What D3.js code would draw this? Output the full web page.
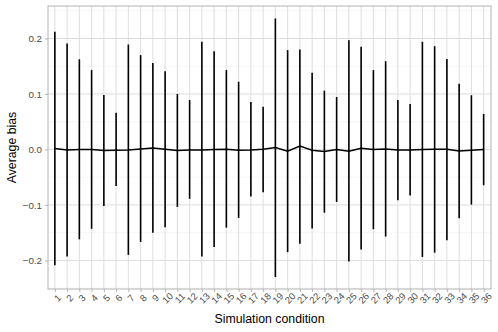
<!DOCTYPE html>
<html>
<head>
<meta charset="utf-8">
<script src="https://cdn.jsdelivr.net/npm/d3@7"></script>
<style>
  html, body { margin: 0; padding: 0; background: #fff; }
  svg { display: block; font-family: "Liberation Sans", Arial, Helvetica, sans-serif; }
</style>
</head>
<body>
<svg id="chart" width="498" height="332"></svg>
<script>
const conditions = d3.range(1, 37).map(String);
const meanBias = [0.0015, -0.0009, -0.0003, -0.0003, -0.0021, -0.0015, -0.0009, 0.0009, 0.0027, 0.0003,
  -0.0021, -0.0009, -0.0009, -0.0003, 0.0003, -0.0015, -0.0009, 0.0003, 0.0033, -0.0033,
  0.0063, -0.0015, -0.0039, -0.0003, -0.0033, 0.0021, -0.0003, 0.0009, -0.0009, -0.0009,
  -0.0003, 0.0003, 0.0003, -0.0027, -0.0015, -0.0003];
const upperBias = [0.212, 0.191, 0.1625, 0.143, 0.098, 0.066, 0.189, 0.170, 0.156, 0.141,
  0.100, 0.089, 0.194, 0.177, 0.143, 0.122, 0.0856, 0.077, 0.236, 0.179,
  0.180, 0.138, 0.106, 0.0946, 0.197, 0.185, 0.143, 0.159, 0.089, 0.082,
  0.194, 0.186, 0.163, 0.1186, 0.0977, 0.064];
const lowerBias = [-0.2087, -0.193, -0.162, -0.143, -0.102, -0.066, -0.190, -0.1667, -0.150, -0.140,
  -0.1036, -0.089, -0.193, -0.1757, -0.141, -0.1234, -0.085, -0.077, -0.230, -0.185,
  -0.170, -0.1426, -0.114, -0.0946, -0.202, -0.1805, -0.1438, -0.157, -0.0916, -0.083,
  -0.1937, -0.186, -0.1637, -0.124, -0.0994, -0.0645];
const yTicks = [-0.2, -0.1, 0.0, 0.1, 0.2];
const yMinorTicks = [-0.25, -0.15, -0.05, 0.05, 0.15, 0.25];

const data = conditions.map((c, i) => ({ c, mean: meanBias[i], lo: lowerBias[i], hi: upperBias[i] }));

const svg = d3.select("#chart");
const pLeft = 48, pRight = 491, pTop = 6, pBottom = 289;

const x = d3.scalePoint().domain(conditions).range([pLeft - 0.5, pRight]).padding(0.6);
const y = d3.scaleLinear().domain([-0.2515, 0.2585]).range([pBottom, pTop]);

const grid = svg.append("g");
grid.selectAll("line.minor").data(yMinorTicks).enter().append("line")
  .attr("x1", pLeft).attr("x2", pRight)
  .attr("y1", d => y(d)).attr("y2", d => y(d))
  .attr("stroke", "#ededed").attr("stroke-width", 0.5);
grid.selectAll("line.majy").data(yTicks).enter().append("line")
  .attr("x1", pLeft).attr("x2", pRight)
  .attr("y1", d => y(d)).attr("y2", d => y(d))
  .attr("stroke", "#dedede").attr("stroke-width", 1);
grid.selectAll("line.majx").data(conditions).enter().append("line")
  .attr("x1", d => x(d)).attr("x2", d => x(d))
  .attr("y1", pTop).attr("y2", pBottom)
  .attr("stroke", "#dedede").attr("stroke-width", 1);

// error bars
svg.append("g").selectAll("line").data(data).enter().append("line")
  .attr("x1", d => x(d.c)).attr("x2", d => x(d.c))
  .attr("y1", d => y(d.lo)).attr("y2", d => y(d.hi))
  .attr("stroke", "#000").attr("stroke-width", 1.6);

// mean line
svg.append("path").datum(data)
  .attr("d", d3.line().x(d => x(d.c)).y(d => y(d.mean)))
  .attr("fill", "none").attr("stroke", "#000").attr("stroke-width", 1.5);

// panel border
svg.append("rect").attr("x", pLeft).attr("y", pTop)
  .attr("width", pRight - pLeft).attr("height", pBottom - pTop)
  .attr("fill", "none").attr("stroke", "#b3b3b3").attr("stroke-width", 1);

// y axis
const yAxis = svg.append("g").attr("transform", `translate(${pLeft},0)`)
  .call(d3.axisLeft(y).tickValues(yTicks).tickSize(3).tickPadding(3)
    .tickFormat(d => d3.format(".1f")(d).replace("-", "\u2212")));
yAxis.select(".domain").remove();
yAxis.selectAll(".tick line").attr("stroke", "#b3b3b3");
yAxis.selectAll(".tick text").attr("fill", "#4d4d4d").style("font-size", "9.8px")
  .style("font-family", "Liberation Sans, Arial, sans-serif");

// x axis
const xAxis = svg.append("g").attr("transform", `translate(0,${pBottom})`)
  .call(d3.axisBottom(x).tickSize(3).tickFormat(d => d));
xAxis.select(".domain").remove();
xAxis.selectAll(".tick line").attr("stroke", "#b3b3b3");
xAxis.selectAll(".tick text")
  .attr("fill", "#4d4d4d").style("font-size", "9.5px")
  .style("font-family", "Liberation Sans, Arial, sans-serif")
  .attr("text-anchor", "middle")
  .attr("y", null).attr("dy", null)
  .attr("dominant-baseline", "central")
  .attr("transform", "translate(2,9) rotate(-45)");

// titles
svg.append("text").attr("x", (pLeft + pRight) / 2).attr("y", 323)
  .attr("text-anchor", "middle").style("font-size", "12.3px").attr("fill", "#000")
  .text("Simulation condition");
svg.append("text").attr("transform", `translate(16,${(pTop + pBottom) / 2}) rotate(-90)`)
  .attr("text-anchor", "middle").style("font-size", "12.3px").attr("fill", "#000")
  .text("Average bias");
</script>
</body>
</html>
